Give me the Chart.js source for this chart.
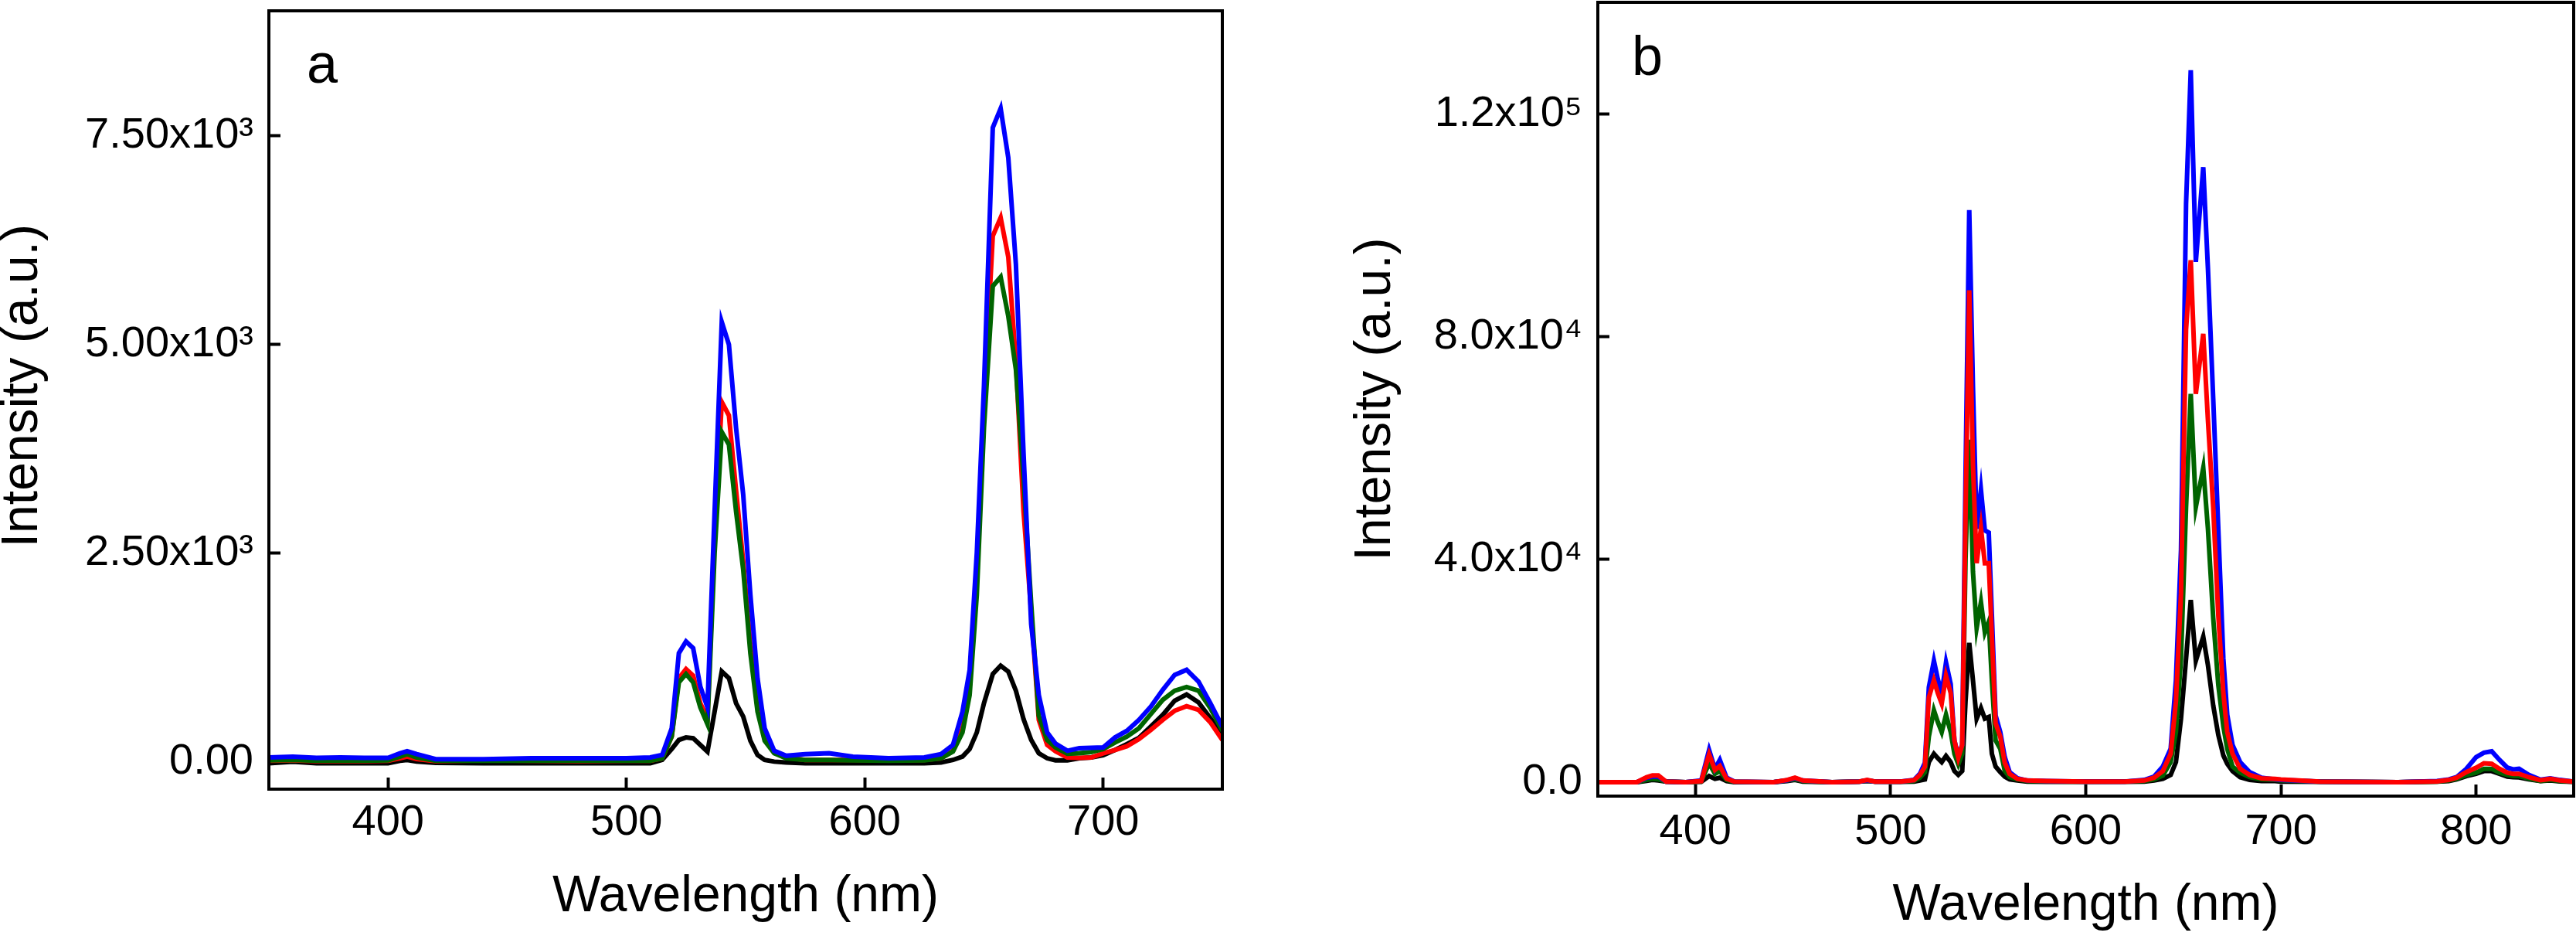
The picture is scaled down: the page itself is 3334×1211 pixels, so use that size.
<!DOCTYPE html>
<html>
<head>
<meta charset="utf-8">
<script src="https://cdn.jsdelivr.net/npm/chart.js@4.4.0/dist/chart.umd.min.js"></script>
<style>
  html, body { margin: 0; padding: 0; background: #fff; }
  #wrap { position: relative; width: 3334px; height: 1211px; }
  .panel { position: absolute; top: 0; height: 1211px; }
  #panelA { left: 0; width: 1700px; }
  #panelB { left: 1700px; width: 1634px; }
</style>
</head>
<body>
<div id="wrap">
  <div class="panel" id="panelA"><canvas id="chartA" width="1700" height="1211"></canvas></div>
  <div class="panel" id="panelB"><canvas id="chartB" width="1634" height="1211"></canvas></div>
</div>
<script>
// ---- panel a : wavelength (nm) and intensity of the four spectra ----
const wlA = [350, 360, 370, 380, 390, 400, 405, 408, 412, 420, 440, 460, 480, 500, 510, 515, 519, 522, 525, 528,
  531, 534, 537, 540, 543, 546, 549, 552, 555, 558, 562, 567, 575, 585, 595, 610, 625, 632, 637, 641,
  644, 647, 650, 653.7, 657, 660.2, 663.4, 666.6, 669.8, 673, 676.5, 680, 685, 690, 695, 700, 705, 710, 715, 720,
  725, 730, 735, 740, 745, 750];
const blueA = [50, 60, 45, 50, 45, 45, 100, 125, 90, 30, 30, 40, 40, 40, 50, 80, 400, 1300, 1440, 1360,
  900, 650, 3000, 5270, 5000, 4000, 3200, 2000, 1000, 400, 130, 70, 90, 100, 60, 40, 50, 90, 200, 600,
  1100, 2500, 4500, 7600, 7830, 7240, 5960, 3700, 1650, 800, 350, 216, 130, 160, 165, 170, 290, 370, 500, 660,
  860, 1040, 1100, 960, 700, 420];
const greenA = [15, 20, 10, 10, 10, 15, 60, 90, 50, 10, 10, 10, 10, 10, 10, 40, 300, 950, 1050, 950,
  650, 450, 2500, 3950, 3800, 3000, 2300, 1300, 600, 250, 100, 40, 20, 20, 15, 10, 15, 40, 120, 350,
  800, 2000, 4000, 5700, 5810, 5340, 4700, 3400, 1900, 550, 260, 170, 95, 100, 115, 150, 230, 300, 400, 570,
  740, 850, 895, 850, 640, 370];
const redA = [10, 15, 5, 5, 5, 10, 40, 60, 30, 5, 15, 10, 5, 10, 10, 40, 300, 1000, 1110, 1030,
  700, 520, 2700, 4310, 4150, 3250, 2400, 1400, 650, 270, 110, 50, 20, 20, 20, 15, 20, 40, 130, 400,
  900, 2200, 4300, 6300, 6520, 6050, 4800, 3000, 1800, 500, 200, 124, 50, 46, 50, 100, 140, 185, 270, 380,
  500, 610, 665, 620, 470, 260];
const blackA = [-20, 0, -20, -20, -20, -20, 10, 20, 0, -15, -20, -20, -20, -20, -20, 20, 150, 260, 290, 280,
  200, 120, 600, 1080, 1000, 700, 540, 250, 80, 20, 0, -10, -20, -20, -20, -20, -20, -10, 20, 60,
  150, 350, 700, 1050, 1150, 1080, 850, 510, 260, 100, 40, 15, 15, 40, 50, 77, 140, 210, 285, 420,
  560, 730, 805, 710, 520, 325];
const xTicksA = [400, 500, 600, 700];
const yTicksA = [0, 2500, 5000, 7500];
const yLabelsA = ['0.00', '2.50x10³', '5.00x10³', '7.50x10³'];

// ---- panel b ----
const wlB = [350, 370, 375, 378, 381, 385, 395, 403, 407, 410, 412.5, 416, 420, 440, 447, 451, 455, 470, 484, 488,
  492, 505, 512, 515, 517.6, 519.6, 522.2, 524.2, 526.2, 528.4, 530.8, 532.7, 534.7, 536.7, 538.4, 540.3, 542.2, 544.1, 546.3, 548.3,
  550.3, 551.9, 553.8, 556.2, 558.5, 561, 565, 570, 580, 600, 620, 630, 635, 639.5, 643.5, 646.2, 648.8, 651.4, 653.8, 656.4,
  660.2, 662.6, 665.3, 667.9, 670.5, 672.5, 675.2, 679.1, 684, 690, 697, 700, 720, 760, 780, 786, 790, 795, 800, 804,
  808, 812, 816, 819, 822, 827, 833, 838, 843, 850];
const blueB = [0, 0, 800, 1000, 1000, 100, 0, 300, 5800, 2400, 4000, 800, 100, 0, 350, 700, 300, 0, 100, 350,
  100, 100, 400, 1500, 3500, 17000, 21800, 18500, 16000, 21500, 17600, 7500, 4700, 6700, 55000, 102700, 71000, 45500, 52500, 45200,
  44800, 30000, 12000, 9000, 4500, 1800, 700, 300, 200, 100, 100, 400, 1000, 2800, 6000, 18300, 41700, 103900, 127800, 93400,
  110400, 92200, 68900, 45600, 22200, 12100, 6700, 3600, 1800, 800, 500, 400, 100, 0, 200, 500, 900, 2400, 4500, 5300,
  5550, 4000, 2600, 2300, 2400, 1300, 450, 700, 400, 100];
const redB = [0, 0, 900, 1200, 1200, 100, 0, 200, 5000, 2200, 2900, 600, 100, 0, 400, 800, 300, 0, 100, 400,
  100, 100, 350, 1300, 2800, 15200, 18300, 16000, 14100, 19100, 16000, 7500, 4400, 6700, 48000, 88300, 57000, 39300, 45600, 39300,
  39300, 26200, 10600, 8200, 3500, 1500, 600, 300, 200, 100, 100, 300, 800, 2000, 5100, 14500, 33900, 81300, 93700, 69700,
  80500, 65000, 49400, 30000, 16000, 9000, 5100, 2400, 1300, 700, 600, 500, 100, 0, 150, 400, 800, 1800, 2600, 3400,
  3300, 2400, 1700, 1500, 1500, 900, 350, 600, 300, 100];
const greenB = [0, 0, 400, 600, 500, 100, 0, 150, 3400, 1500, 2000, 400, 50, 0, 300, 500, 200, 0, 100, 300,
  100, 100, 200, 800, 1800, 8200, 12900, 10800, 9000, 12100, 9000, 5100, 3200, 5100, 40000, 61500, 37800, 27700, 32300, 26900,
  28800, 18300, 7500, 6000, 2000, 900, 500, 200, 150, 100, 150, 200, 500, 1200, 3600, 9000, 22200, 49400, 69700, 49400,
  56400, 45500, 29500, 17500, 10000, 6000, 2800, 1700, 900, 500, 400, 300, 100, 0, 100, 300, 600, 1300, 1700, 2400,
  2400, 1700, 1300, 1100, 1100, 650, 200, 400, 200, 50];
const blackB = [0, 0, 250, 400, 300, 100, 0, 50, 1100, 600, 800, 200, 0, 0, 200, 400, 100, 0, 100, 200,
  100, 50, 100, 300, 500, 3600, 5100, 4300, 3600, 4700, 3600, 2000, 1300, 2000, 14500, 25000, 18300, 11400, 13300, 11400,
  11700, 5100, 2800, 1800, 1000, 500, 300, 100, 50, 50, 50, 100, 300, 600, 1300, 3600, 11400, 22200, 32700, 21800,
  26100, 21000, 13800, 8500, 4800, 3300, 2000, 900, 400, 200, 200, 100, 50, 0, 100, 200, 500, 1100, 1500, 2000,
  2000, 1500, 1000, 900, 850, 500, 200, 300, 150, 50];
const xTicksB = [400, 500, 600, 700, 800];
const yTicksB = [0, 40000, 80000, 120000];
const yLabelsB = ['0.0', '4.0x10⁴', '8.0x10⁴', '1.2x10⁵'];

const FONT = '"Liberation Sans", Arial, Helvetica, sans-serif';
Chart.defaults.font.family = FONT;
Chart.defaults.color = '#000';

// black frame around the plot area plus the panel letter
const framePlugin = {
  id: 'frame',
  afterDatasetsDraw(chart, args, opts) {
    const { ctx, chartArea: a } = chart;
    ctx.save();
    ctx.lineWidth = 4;
    ctx.strokeStyle = '#000';
    ctx.strokeRect(a.left, a.top, a.right - a.left, a.bottom - a.top);
    ctx.fillStyle = '#000';
    ctx.font = '72px ' + FONT;
    ctx.textBaseline = 'alphabetic';
    ctx.fillText(opts.letter, a.left + opts.dx, a.top + opts.dy);
    ctx.restore();
  }
};

function series(xs, ys, color) {
  return {
    data: xs.map((x, i) => ({ x: x, y: ys[i] })),
    borderColor: color,
    borderWidth: 6,
    pointRadius: 0,
    tension: 0,
    fill: false
  };
}

function makeChart(id, cfg) {
  return new Chart(document.getElementById(id), {
    type: 'line',
    data: { datasets: cfg.datasets },
    plugins: [framePlugin],
    options: {
      responsive: false,
      animation: false,
      devicePixelRatio: 1,
      layout: { padding: { left: 0, top: cfg.top, right: cfg.right, bottom: 0 } },
      plugins: {
        legend: { display: false },
        tooltip: { enabled: false },
        frame: { letter: cfg.letter, dx: cfg.letterDx, dy: cfg.letterDy }
      },
      scales: {
        x: {
          type: 'linear',
          min: cfg.xMin,
          max: cfg.xMax,
          afterBuildTicks: s => { s.ticks = cfg.xTicks.map(v => ({ value: v })); },
          afterFit: s => { s.height = cfg.xAxisHeight; s.paddingLeft = 0; s.paddingRight = 0; },
          border: { display: false },
          grid: { drawOnChartArea: false, drawTicks: true, tickLength: -15, tickWidth: 4, tickColor: '#000' },
          ticks: { font: { size: 56 }, color: '#000', padding: cfg.xTickPad, maxRotation: 0, autoSkip: false },
          title: { display: true, text: 'Wavelength (nm)', color: '#000', font: { size: 66, lineHeight: 1 }, padding: { top: 0, bottom: cfg.xTitlePad } }
        },
        y: {
          type: 'linear',
          min: cfg.yMin,
          max: cfg.yMax,
          afterBuildTicks: s => { s.ticks = cfg.yTicks.map(v => ({ value: v })); },
          afterFit: s => { s.width = cfg.yAxisWidth; s.paddingTop = 0; s.paddingBottom = 0; },
          border: { display: false },
          grid: { drawOnChartArea: false, drawTicks: true, tickLength: -15, tickWidth: 4, tickColor: '#000' },
          ticks: {
            font: { size: 56 }, color: '#000', padding: 35, autoSkip: false,
            callback: (v, i) => cfg.yLabels[cfg.yTicks.indexOf(v)]
          },
          title: { display: true, text: cfg.yTitle, color: '#000', font: { size: 66, lineHeight: 1 }, padding: { top: cfg.yTitlePad, bottom: 0 } }
        }
      }
    }
  });
}

// panel a: blue drawn on top, black at the bottom
// (two leading spaces nudge the rotated title a little upwards, as in the figure)
makeChart('chartA', {
  datasets: [
    series(wlA, blueA, '#0000FF'),
    series(wlA, greenA, '#006400'),
    series(wlA, redA, '#FF0000'),
    series(wlA, blackA, '#000000')
  ],
  top: 14, right: 118, xAxisHeight: 190, yAxisWidth: 348,
  xMin: 350, xMax: 750, yMin: -330, yMax: 9000,
  xTicks: xTicksA, yTicks: yTicksA, yLabels: yLabelsA,
  xTickPad: 25, xTitlePad: 17, yTitlePad: -3, yTitle: '  Intensity (a.u.)',
  letter: 'a', letterDx: 49, letterDy: 93
});

// panel b: red drawn on top
makeChart('chartB', {
  datasets: [
    series(wlB, redB, '#FF0000'),
    series(wlB, blueB, '#0000FF'),
    series(wlB, greenB, '#006400'),
    series(wlB, blackB, '#000000')
  ],
  top: 3, right: 3, xAxisHeight: 181, yAxisWidth: 368,
  xMin: 350, xMax: 850, yMin: -2500, yMax: 140000,
  xTicks: xTicksB, yTicks: yTicksB, yLabels: yLabelsB,
  xTickPad: 28, xTitlePad: 6, yTitlePad: 48, yTitle: 'Intensity (a.u.)',
  letter: 'b', letterDx: 44, letterDy: 94
});
</script>
</body>
</html>
